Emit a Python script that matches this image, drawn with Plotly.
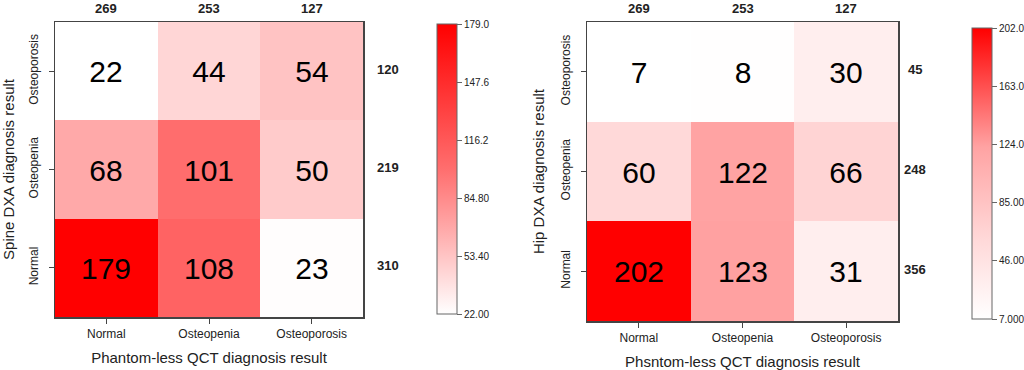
import plotly.graph_objects as go

# ---- data ----
qct_categories = ["Normal", "Osteopenia", "Osteoporosis"]
dxa_categories = ["Normal", "Osteopenia", "Osteoporosis"]

spine_normal = [179, 108, 23]
spine_osteopenia = [68, 101, 50]
spine_osteoporosis = [22, 44, 54]
spine_col_totals = [269, 253, 127]
spine_row_totals = [310, 219, 120]
spine_cbar_ticks = [22.0, 53.4, 84.8, 116.2, 147.6, 179.0]
spine_cbar_labels = ["22.00", "53.40", "84.80", "116.2", "147.6", "179.0"]

hip_normal = [202, 123, 31]
hip_osteopenia = [60, 122, 66]
hip_osteoporosis = [7, 8, 30]
hip_col_totals = [269, 253, 127]
hip_row_totals = [356, 248, 45]
hip_cbar_ticks = [7.0, 46.0, 85.0, 124.0, 163.0, 202.0]
hip_cbar_labels = ["7.000", "46.00", "85.00", "124.0", "163.0", "202.0"]

W, H = 1024, 370
FONT = "Liberation Sans, Arial, sans-serif"

spine_scale = [[0, "#FFFFFF"], [0.14, "#FFD6D6"], [0.29, "#FFAAAA"],
               [0.5, "#FF6E6E"], [1, "#FF0000"]]
hip_scale = [[0, "#FFFFFF"], [0.12, "#FFEEEE"], [0.27, "#FFD9D9"],
             [0.59, "#FFA3A3"], [1, "#FF0000"]]

fig = go.Figure()

spine_z = [spine_normal, spine_osteopenia, spine_osteoporosis]
hip_z = [hip_normal, hip_osteopenia, hip_osteoporosis]


def cbar(xpx, ytop, ybot, tv, tt):
    return dict(
        x=xpx / W, xanchor="left", xref="paper",
        y=1 - (ytop + ybot) / 2 / H, yanchor="middle", yref="paper",
        thickness=20, thicknessmode="pixels",
        len=(ybot - ytop), lenmode="pixels",
        outlinewidth=1, outlinecolor="#666666",
        tickmode="array", tickvals=tv, ticktext=tt,
        ticks="outside", ticklen=5, tickcolor="#666666",
        tickfont=dict(family=FONT, size=10, color="#222222"),
        xpad=0, ypad=0,
    )


fig.add_trace(go.Heatmap(
    z=spine_z, x=qct_categories, y=dxa_categories,
    zmin=min(min(r) for r in spine_z), zmax=max(max(r) for r in spine_z),
    colorscale=spine_scale,
    text=spine_z, texttemplate="%{text}",
    textfont=dict(family=FONT, size=30, color="black"),
    colorbar=cbar(437, 24, 314, spine_cbar_ticks, spine_cbar_labels),
    xaxis="x", yaxis="y", hoverinfo="skip",
))

fig.add_trace(go.Heatmap(
    z=hip_z, x=qct_categories, y=dxa_categories,
    zmin=min(min(r) for r in hip_z), zmax=max(max(r) for r in hip_z),
    colorscale=hip_scale,
    text=hip_z, texttemplate="%{text}",
    textfont=dict(family=FONT, size=30, color="black"),
    colorbar=cbar(972, 28, 319, hip_cbar_ticks, hip_cbar_labels),
    xaxis="x2", yaxis="y2", hoverinfo="skip",
))

axis_common = dict(
    showline=True, mirror=True, linecolor="#444444", linewidth=1.5,
    ticks="outside", ticklen=5, tickcolor="#444444", showgrid=False,
    zeroline=False, tickfont=dict(family=FONT, size=12, color="#222222"),
    fixedrange=True, automargin=False,
)

fig.update_layout(
    width=W, height=H,
    margin=dict(l=0, r=0, t=0, b=0, autoexpand=False),
    paper_bgcolor="white", plot_bgcolor="white",
    font=dict(family=FONT, color="#222222"),
    xaxis=dict(domain=[55 / W, 363 / W], anchor="y",
               title=dict(text="Phantom-less QCT diagnosis result",
                          font=dict(family=FONT, size=15, color="#222222"),
                          standoff=12),
               **axis_common),
    yaxis=dict(domain=[1 - 317 / H, 1 - 22 / H], anchor="x", tickangle=-90,
               ticklabelstandoff=6,
               title=dict(text="Spine DXA diagnosis result",
                          font=dict(family=FONT, size=15, color="#222222"),
                          standoff=10),
               **axis_common),
    xaxis2=dict(domain=[587 / W, 898 / W], anchor="y2",
                title=dict(text="Phsntom-less QCT diagnosis result",
                           font=dict(family=FONT, size=15, color="#222222"),
                           standoff=12),
                **axis_common),
    yaxis2=dict(domain=[1 - 321 / H, 1 - 22 / H], anchor="x2", tickangle=-90,
                ticklabelstandoff=6,
                title=dict(text="Hip DXA diagnosis result",
                           font=dict(family=FONT, size=15, color="#222222"),
                           standoff=10),
                **axis_common),
)

annots = []
for xa, ya, ctot, rtot, rx in [("x", "y", spine_col_totals, spine_row_totals, 1.081),
                                ("x2", "y2", hip_col_totals, hip_row_totals, 1.055)]:
    for cat, v in zip(qct_categories, ctot):
        annots.append(dict(x=cat, xref=xa, y=1 - 9 / H, yref="paper",
                           xanchor="center", yanchor="middle",
                           text=f"<b>{v}</b>", showarrow=False,
                           font=dict(family=FONT, size=13, color="#222222")))
    for cat, v in zip(dxa_categories, rtot):
        annots.append(dict(x=rx, xref=f"{xa} domain", y=cat, yref=ya,
                           xanchor="center", yanchor="middle",
                           yshift=2, text=f"<b>{v}</b>", showarrow=False,
                           font=dict(family=FONT, size=13, color="#222222")))
fig.update_layout(annotations=annots)

fig.write_html("out.html",
               config={"displayModeBar": False, "staticPlot": True},
               post_script="document.body.style.margin='0';"
                           "document.body.style.overflow='hidden';")
